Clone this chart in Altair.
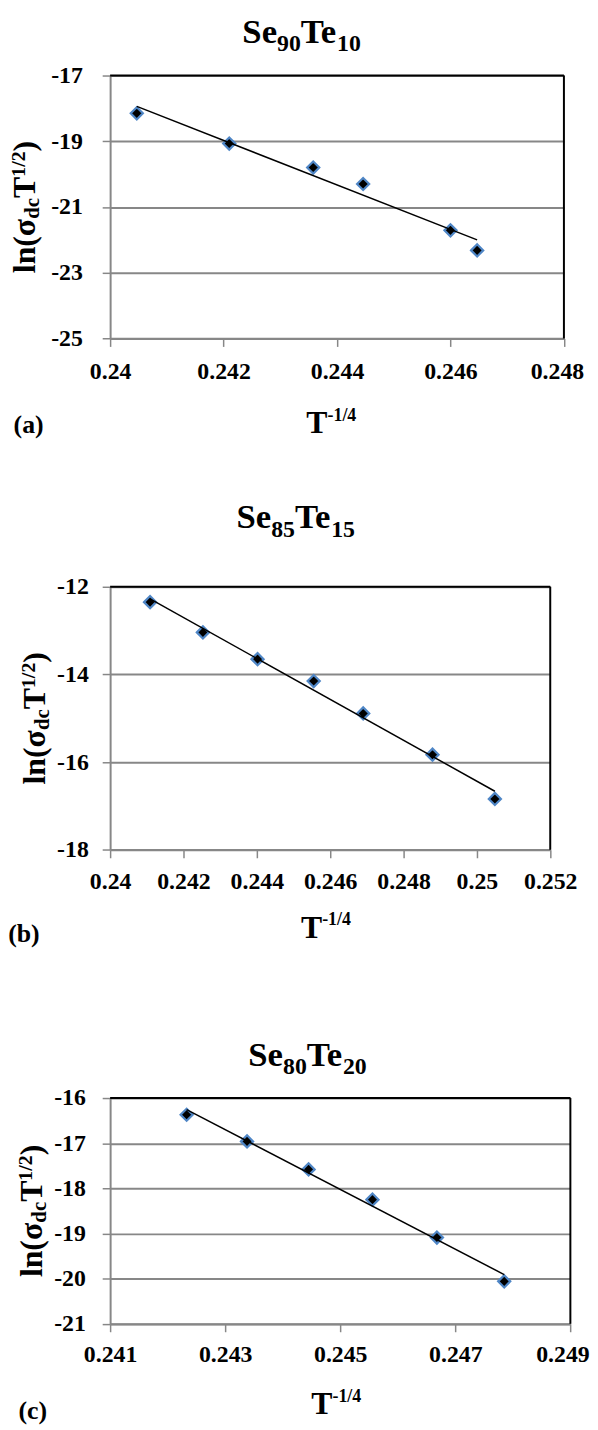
import altair as alt
import pandas as pd

# ---------------- data ----------------
a_x = [0.24047, 0.24210, 0.24358, 0.24446, 0.24600, 0.24647]
a_y = [-18.15, -19.07, -19.80, -20.30, -21.71, -22.32]
b_x = [0.24109, 0.24253, 0.24402, 0.24555, 0.24690, 0.24879, 0.25049]
b_y = [-12.35, -13.04, -13.65, -14.15, -14.89, -15.83, -16.84]
c_x = [0.24233, 0.24338, 0.24445, 0.24556, 0.24668, 0.24785]
c_y = [-16.37, -16.96, -17.58, -18.25, -19.09, -20.06]

a_xticks = [0.24, 0.242, 0.244, 0.246, 0.248]
a_yticks = [-25, -23, -21, -19, -17]
b_xticks = [0.24, 0.242, 0.244, 0.246, 0.248, 0.25, 0.252]
b_yticks = [-18, -16, -14, -12]
c_xticks = [0.241, 0.243, 0.245, 0.247, 0.249]
c_yticks = [-21, -20, -19, -18, -17, -16]

titles = [("Se", "90", "Te", "10"), ("Se", "85", "Te", "15"), ("Se", "80", "Te", "20")]
tags = ["(a)", "(b)", "(c)"]
xtitle = ("T", "-1/4")
ytitle = [("ln(σ", 0), ("dc", 1), ("T", 0), ("1/2", 2), (")", 0)]

# ---------------- styling / layout ----------------
FONT = "Liberation Serif"
GRAY = "#878787"
BLUE = "#4f86c6"
TF, SF = 35, 24          # panel title main / subscript size
XF, XSF = 32, 18         # x title main / superscript size
YF, YSUB, YSUP = 32, 21, 20
LF = 24                  # tick label size
TAGF = 26

ADV = {'S': .556, 'e': .444, 'T': .667, 'l': .278, 'n': .556, '(': .333, ')': .333,
       'σ': .55, 'd': .556, 'c': .444, '/': .278, '-': .333}
KERN = {"Te": -0.07}


def tw(s, fs):
    w = sum(ADV.get(ch, .5) for ch in s)
    for pair, k in KERN.items():
        if pair in s:
            w += k
    return w * fs


ONE = pd.DataFrame({"k": [0]})


def txt(s, x, y, fs, angle=None):
    kw = dict(text=s, font=FONT, fontSize=fs, fontWeight="bold", color="black",
              align="left", baseline="alphabetic")
    if angle is not None:
        kw["angle"] = angle
    return alt.Chart(ONE).mark_text(**kw).encode(x=alt.value(x), y=alt.value(y))


def make_panel(xs, ys, xticks, yticks, W, H, title, tag, lay, anchor=None):
    df = pd.DataFrame({"x": xs, "y": ys})
    last_off = lay["lastoff"]
    xaxis = alt.Axis(values=xticks, labelExpr="'' + datum.value", title=None, grid=False,
                     domainColor=GRAY, domainWidth=2, tickColor=GRAY, tickWidth=1.5,
                     tickSize=8, labelFont=FONT, labelFontSize=LF, labelFontWeight="bold",
                     labelColor="black", labelPadding=lay["xpad"], labelFlush=False,
                     labelOverlap=False, labelBound=False,
                     labelOffset=alt.condition(f"datum.value > {xticks[-2]}",
                                               alt.value(last_off), alt.value(0)))
    yaxis = alt.Axis(values=yticks, labelExpr="'' + datum.value", title=None, grid=True,
                     gridColor=GRAY, gridWidth=2,
                     domainColor=GRAY, domainWidth=2, tickColor=GRAY, tickWidth=1.5,
                     tickSize=8, labelFont=FONT, labelFontSize=LF, labelFontWeight="bold",
                     labelColor="black", labelPadding=lay["ypad"], labelFlush=False,
                     labelOverlap=False, labelBound=False)
    xd = [xticks[0], xticks[-1]]
    yd = [min(yticks), max(yticks)]
    pts = alt.Chart(df).mark_point(shape="diamond", filled=True, fill="black", stroke=BLUE,
                                   strokeWidth=2.2, size=150, opacity=1).encode(
        x=alt.X("x:Q", scale=alt.Scale(domain=xd, nice=False, zero=False), axis=xaxis),
        y=alt.Y("y:Q", scale=alt.Scale(domain=yd, nice=False, zero=False), axis=yaxis),
    )
    line = alt.Chart(df).transform_regression("x", "y").mark_line(
        color="black", strokeWidth=1.5).encode(x="x:Q", y="y:Q")
    top = alt.Chart(ONE).mark_rule(color="black", strokeWidth=2).encode(
        x=alt.value(0), x2=alt.value(W), y=alt.value(0))
    right = alt.Chart(ONE).mark_rule(color="black", strokeWidth=2).encode(
        x=alt.value(W), y=alt.value(0), y2=alt.value(H))
    layers = []
    if anchor is not None:
        ax, ay = anchor
        layers.append(alt.Chart(ONE).mark_rect(color="white", opacity=1).encode(
            x=alt.value(ax), x2=alt.value(ax + 1), y=alt.value(ay), y2=alt.value(ay + 1)))
    layers += [pts, line, top, right]

    # title with subscripts
    widths = [tw(p, TF if i % 2 == 0 else SF) for i, p in enumerate(title)]
    x = lay["tcx"] - sum(widths) / 2
    for i, p in enumerate(title):
        if i % 2 == 0:
            layers.append(txt(p, x, lay["tyb"], TF))
        else:
            layers.append(txt(p, x, lay["tys"], SF))
        x += widths[i]

    # x axis title T^-1/4
    w1, w2 = tw(xtitle[0], XF), tw(xtitle[1], XSF)
    x = lay["xcx"] - (w1 + w2) / 2
    layers.append(txt(xtitle[0], x, lay["xyb"], XF))
    layers.append(txt(xtitle[1], x + w1, lay["xys"], XSF))

    # tag
    layers.append(txt(tag, lay["tagx"], lay["tagy"], TAGF))

    # y axis title (rotated)
    pieces = []
    for s, kind in ytitle:
        fs = YF if kind == 0 else (YSUB if kind == 1 else YSUP)
        shift = 0 if kind == 0 else (4 if kind == 1 else -10)
        pieces.append((s, fs, shift, tw(s, fs)))
    total = sum(p[3] for p in pieces)
    y = H / 2 + total / 2
    for s, fs, shift, w in pieces:
        layers.append(txt(s, lay["ybx"] + shift, y, fs, angle=270))
        y -= w

    return alt.layer(*layers).properties(width=W, height=H)


def spacer(w, h):
    sp = pd.DataFrame({"s": [0]})
    return alt.Chart(sp).mark_point(opacity=0, size=1).encode(
        x=alt.X("s:Q", axis=None), y=alt.Y("s:Q", axis=None)).properties(width=w, height=h)


# page-coordinate origins of the three plot areas
orig = [(110.4, 69.5), (115.8, 585.7), (105.4, 1099.3)]
sizes = [(457.7, 265.2), (443.9, 265.3), (464.2, 227.7)]
minx = min(o[0] for o in orig)

lays = [
    dict(tcx=303.5 - 110.4, tyb=-33, tys=-24.5, xcx=333.5 - 110.4, xyb=360.5, xys=348.5,
         tagx=13 - 110.4, tagy=360.5, ybx=35 - 110.4, xpad=13, ypad=20, lastoff=-7),
    dict(tcx=303.0 - 115.8, tyb=-59, tys=-50.7, xcx=333.5 - 115.8, xyb=354.3, xys=341.6,
         tagx=13 - 115.8, tagy=358.3, ybx=50 - 115.8, xpad=12, ypad=14, lastoff=0),
    dict(tcx=304.5 - 105.4, tyb=-32.6, tys=-24.3, xcx=333.5 - 105.4, xyb=319, xys=306.7,
         tagx=13 - 105.4, tagy=324, ybx=36.4 - 105.4, xpad=11, ypad=17, lastoff=-8),
]

data = [(a_x, a_y, a_xticks, a_yticks), (b_x, b_y, b_xticks, b_yticks), (c_x, c_y, c_xticks, c_yticks)]
cells = []
for i in range(3):
    xs, ys, xt, yt = data[i]
    W, H = sizes[i]
    anchor = (8 - orig[0][0], 8 - orig[0][1]) if i == 0 else None
    p = make_panel(xs, ys, xt, yt, W, H, titles[i], tags[i], lays[i], anchor)
    cells += [spacer(orig[i][0] - minx + 1, H), p]

gap1 = orig[1][1] - (orig[0][1] + sizes[0][1])
gap2 = orig[2][1] - (orig[1][1] + sizes[1][1])
gap = (gap1 + gap2) / 2

chart = alt.concat(
    *cells, columns=2, align="none", bounds="flush",
    spacing={"row": gap, "column": 0},
).properties(
    padding={"left": 0, "top": 0, "right": 0, "bottom": 0}
).configure_view(stroke=None)

chart.save("out.html", embed_options={"renderer": "svg", "actions": False})
